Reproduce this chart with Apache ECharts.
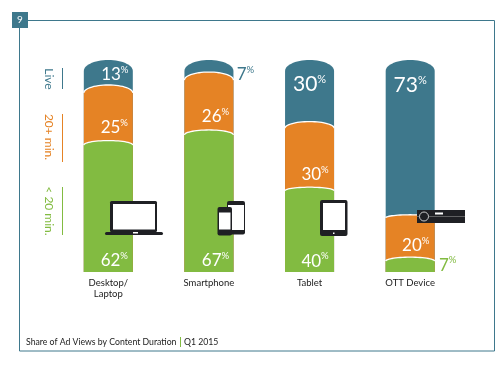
<!DOCTYPE html>
<html>
<head>
<meta charset="utf-8">
<style>
html, body { margin: 0; padding: 0; background: #fff; }
#chart { width: 502px; height: 368px; }
</style>
<script src="https://cdn.jsdelivr.net/npm/echarts@6/dist/echarts.min.js"></script>
</head>
<body>
<div id="chart"></div>
<script>
// values from the picture
var categories = ['Desktop/\nLaptop', 'Smartphone', 'Tablet', 'OTT Device'];
var shortShare = [62, 67, 40, 7];
var midShare = [25, 26, 30, 20];
var liveShare = [13, 7, 30, 73];
var sideNames = ['Live', '20+ min.', '< 20 min.'];
var captionLeft = 'Share of Ad Views by Content Duration';
var captionRight = 'Q1 2015';

var BLUE = '#3e788c';
var ORANGE = '#e58325';
var GREEN = '#82bb41';
var DARK = '#1f2024';
var FONT = 'Lato';

// label offsets from the top of each segment, px
var liveOffset = [[6.5, 15], [36.5, 15], [0, 24], [0, 25]];
var midOffset = [[6, 40], [6.5, 42], [5.5, 51], [5.5, 31]];
var shortOffset = [[6, 120], [6.5, 131], [5.5, 74], [37.5, 8]];
var bigLabel = [false, false, true, true];

// dome height of each segment and how far the printed curve sits above its value, px
var liveDome = [11, 11, 11, 11];
var midDome = [8, 8, 6.5, 3];
var shortDome = [4.5, 5, 3.5, 4];
var midLift = [2.6, 2.8, 2, 0];
var noLift = [0, 0, 0, 0];

function segmentSeries(name, color, shares, below, offsets, dome, lift, edged) {
    return {
        name: name,
        type: 'custom',
        coordinateSystem: 'cartesian2d',
        data: shares.map(function (v, i) {
            return [i, below[i] + v, v];
        }),
        renderItem: function (params, api) {
            var i = api.value(0);
            var top = api.coord([i, api.value(1)]);
            var bottom = api.coord([i, 0]);
            var halfW = api.size([1, 0])[0] * 0.487 / 2;
            var arc = [];
            for (var k = 0; k <= 30; k++) {
                var a = Math.PI - Math.PI * k / 30;
                arc.push([top[0] + halfW * Math.cos(a), top[1] - lift[i] + dome[i] * (1 - Math.sin(a))]);
            }
            var pts = arc.concat([[top[0] + halfW, bottom[1]], [top[0] - halfW, bottom[1]]]);
            var off = offsets[i];
            var outside = Math.abs(off[0]) > 20;
            var big = name === 'Live' && bigLabel[i];
            var kids = [{
                type: 'polygon',
                shape: { points: pts },
                style: { fill: color }
            }];
            if (edged) {
                kids.push({
                    type: 'polyline',
                    shape: { points: arc },
                    style: { stroke: '#fff', lineWidth: 1.3, fill: null }
                });
            }
            kids.push({
                type: 'text',
                x: top[0] + off[0],
                y: top[1] + off[1],
                style: {
                    text: '{n|' + api.value(2) + '}{p|%}',
                    align: 'center',
                    verticalAlign: 'middle',
                    rich: {
                        n: { fontFamily: FONT, fontSize: big ? 21 : 17, fill: outside ? color : '#fff', lineHeight: 20 },
                        p: { fontFamily: FONT, fontSize: big ? 11 : 9.5, fill: outside ? color : '#fff', verticalAlign: 'top', lineHeight: 20 }
                    }
                }
            });
            return { type: 'group', children: kids };
        },
        encode: { x: 0, y: 1 },
        z: 2
    };
}

var liveBelow = shortShare.map(function (v, i) { return v + midShare[i]; });
var noBelow = shortShare.map(function () { return 0; });

function sideName(text, color, cy) {
    return {
        type: 'text',
        x: 49,
        y: cy,
        rotation: -Math.PI / 2,
        style: { text: text, fill: color, font: '12px ' + FONT, align: 'center', verticalAlign: 'middle' }
    };
}
function sideBar(color, y1, y2) {
    return {
        type: 'line',
        shape: { x1: 62.5, y1: y1, x2: 62.5, y2: y2 },
        style: { stroke: color, lineWidth: 1 }
    };
}
function box(x, y, w, h, fill, r, z) {
    return {
        type: 'rect',
        shape: { x: x, y: y, width: w, height: h, r: r || 0 },
        style: { fill: fill },
        z: z || 10
    };
}

var graphics = [
    // frame and number badge
    {
        type: 'rect',
        shape: { x: 19.5, y: 20.5, width: 475, height: 330.5 },
        style: { fill: null, stroke: BLUE, lineWidth: 1 },
        z: 0
    },
    box(12, 12, 16, 16, BLUE, 0, 1),
    {
        type: 'text', x: 20, y: 20, z: 2,
        style: { text: '9', fill: '#fff', font: '10px ' + FONT, align: 'center', verticalAlign: 'middle' }
    },
    // side names
    sideName(sideNames[0], BLUE, 79),
    sideName(sideNames[1], ORANGE, 137),
    sideName(sideNames[2], GREEN, 211),
    sideBar(BLUE, 68, 89),
    sideBar(ORANGE, 114, 162),
    sideBar(GREEN, 187, 235),
    // caption
    {
        type: 'text', x: 26, y: 342,
        style: { text: captionLeft, fill: '#222', font: '8.7px ' + FONT, verticalAlign: 'middle' }
    },
    {
        type: 'line',
        shape: { x1: 180.5, y1: 337, x2: 180.5, y2: 347 },
        style: { stroke: GREEN, lineWidth: 1 }
    },
    {
        type: 'text', x: 184, y: 342,
        style: { text: captionRight, fill: '#222', font: '8.7px ' + FONT, verticalAlign: 'middle' }
    },
    // laptop
    box(110, 201, 47, 31, DARK, 1.5),
    box(113, 204, 42, 25.5, '#fff', 0, 11),
    box(105, 232, 58, 3, DARK, 1.5),
    box(133, 232, 5, 1.5, '#fff', 0, 11),
    // phones
    box(227, 201, 18, 33.5, DARK, 2),
    box(228, 205, 16, 25, '#fff', 0, 11),
    box(217.5, 207, 14.5, 28.5, DARK, 2, 12),
    box(219, 212.5, 11.5, 17, '#fff', 0, 13),
    // tablet
    box(320, 200, 27.5, 36, DARK, 2),
    box(323, 203, 22, 27, '#fff', 0, 11),
    box(333, 232.5, 1.5, 1.5, '#fff', 0, 11),
    // set top box
    box(417, 210, 48, 13, DARK, 0),
    box(417, 216, 48, 0.7, '#777', 0, 11),
    {
        type: 'circle',
        shape: { cx: 424, cy: 216.5, r: 4.5 },
        style: { fill: DARK, stroke: '#ccc', lineWidth: 1 },
        z: 12
    },
    box(435, 212.5, 8, 2, '#fff', 0, 11)
];

var myChart = echarts.init(document.getElementById('chart'));
myChart.setOption({
    animation: false,
    grid: { left: 58, width: 402.5, top: 60, height: 212 },
    xAxis: {
        type: 'category',
        data: categories,
        axisLine: { show: false },
        axisTick: { show: false },
        axisLabel: { interval: 0, color: '#222', fontFamily: FONT, fontSize: 9.5, lineHeight: 11, margin: 5 }
    },
    yAxis: { type: 'value', min: 0, max: 100, show: false },
    series: [
        segmentSeries('Live', BLUE, liveShare, liveBelow, liveOffset, liveDome, noLift, false),
        segmentSeries('20+ min.', ORANGE, midShare, shortShare, midOffset, midDome, midLift, true),
        segmentSeries('< 20 min.', GREEN, shortShare, noBelow, shortOffset, shortDome, noLift, true)
    ],
    graphic: { elements: graphics }
});
</script>
</body>
</html>
